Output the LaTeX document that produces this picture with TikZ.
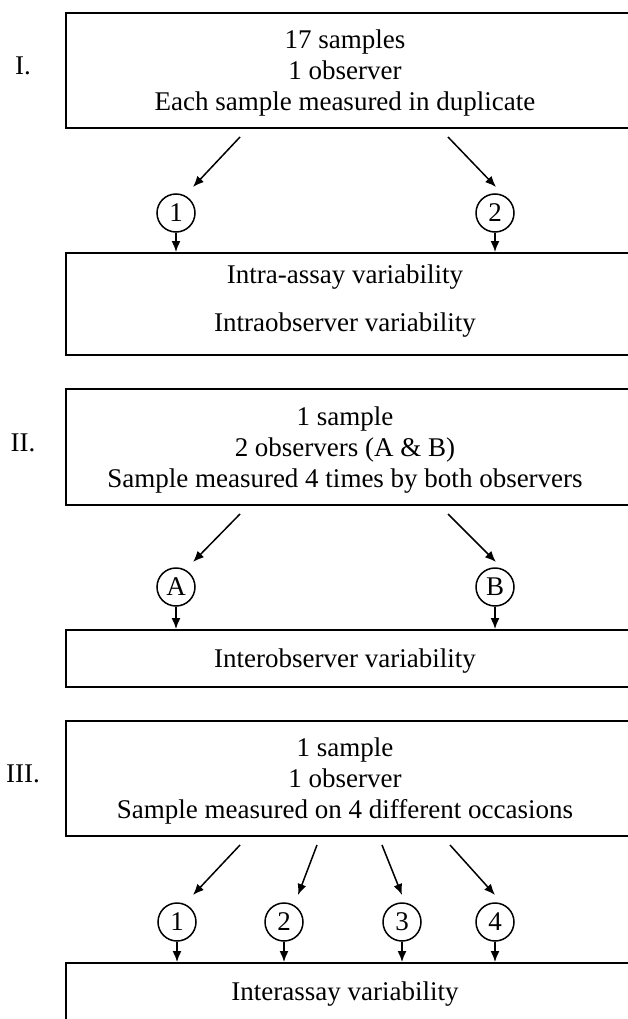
\documentclass[tikz,border=0pt]{standalone}
\usepackage{fontspec}
\setmainfont{Liberation Serif}
\usetikzlibrary{arrows.meta}

\begin{document}
\begin{tikzpicture}[
    x=1pt, y=-1pt,
    every node/.style={font=\fontsize{27}{31}\selectfont},
    arrow/.style={-{Latex[length=11pt, width=9pt]}, line width=1.5pt},
    panel/.style={draw, line width=2pt, anchor=north west, minimum width=640pt, inner sep=0pt},
    trial/.style={draw, circle, line width=1.5pt, minimum size=38pt, inner sep=0pt},
    txt/.style={align=center, inner sep=0pt},
    ]
        \useasboundingbox (0, 0) rectangle (628, 1019);
        \clip (0, 0) rectangle (628, 1019);

        % I.
        \node[panel, minimum height=115pt] (boxI) at (65, 12) {};
        \node[txt] (txtI) at (345, 73) {17 samples\\1 observer\\Each sample measured in duplicate};
        \node (lblI) at (23, 66) {I.};
        \node[trial] (oneI) at (176, 213) {1};
        \node[trial] (twoI) at (495, 213) {2};
        \draw[arrow] (boxI.south west) ++(175, 8) -- ([shift={(17, -26)}]oneI.center);
        \draw[arrow] (boxI.south west) ++(383, 8) -- ([shift={(1, -26)}]twoI.center);
        \node[panel, minimum height=102pt] (boxIb) at (65, 252) {};
        \node[txt] (txtIb) at (345, 301) {Intra-assay variability\\[17pt]Intraobserver variability};
        \draw[arrow] (oneI.south) -- (oneI.south |- boxIb.north);
        \draw[arrow] (twoI.south) -- (twoI.south |- boxIb.north);

        % II.
        \node[panel, minimum height=116pt] (boxII) at (65, 388) {};
        \node[txt] (txtII) at (345, 450) {1 sample\\2 observers (A \& B)\\Sample measured 4 times by both observers};
        \node (lblII) at (23, 443) {II.};
        \node[trial] (obsA) at (176, 587) {A};
        \node[trial] (obsB) at (495, 587) {B};
        \draw[arrow] (boxII.south west) ++(175, 8) -- ([shift={(17, -25)}]obsA.center);
        \draw[arrow] (boxII.south west) ++(383, 8) -- ([shift={(1, -25)}]obsB.center);
        \node[panel, minimum height=57pt] (boxIIb) at (65, 629) {};
        \node[txt] (txtIIb) at (345, 661) {Interobserver variability};
        \draw[arrow] (obsA.south) -- (obsA.south |- boxIIb.north);
        \draw[arrow] (obsB.south) -- (obsB.south |- boxIIb.north);

        % III.
        \node[panel, minimum height=115pt] (boxIII) at (65, 720) {};
        \node[txt] (txtIII) at (345, 781) {1 sample\\1 observer\\Sample measured on 4 different occasions};
        \node (lblIII) at (23, 774) {III.};
        \node[trial] (occ1) at (177, 922) {1};
        \node[trial] (occ2) at (284, 922) {2};
        \node[trial] (occ3) at (402, 922) {3};
        \node[trial] (occ4) at (495, 922) {4};
        \draw[arrow] (boxIII.south west) ++(175, 8) -- ([shift={(16, -27)}]occ1.center);
        \draw[arrow] (boxIII.south west) ++(252, 8) -- ([shift={(14, -27)}]occ2.center);
        \draw[arrow] (boxIII.south west) ++(317, 8) -- ([shift={(0, -27)}]occ3.center);
        \draw[arrow] (boxIII.south west) ++(385, 8) -- ([shift={(0, -27)}]occ4.center);
        \node[panel, minimum height=90pt] (boxIIIb) at (65, 962) {};
        \node[txt] (txtIIIb) at (345, 994) {Interassay variability};
        \draw[arrow] (occ1.south) -- (occ1.south |- boxIIIb.north);
        \draw[arrow] (occ2.south) -- (occ2.south |- boxIIIb.north);
        \draw[arrow] (occ3.south) -- (occ3.south |- boxIIIb.north);
        \draw[arrow] (occ4.south) -- (occ4.south |- boxIIIb.north);
\end{tikzpicture}
\end{document}
